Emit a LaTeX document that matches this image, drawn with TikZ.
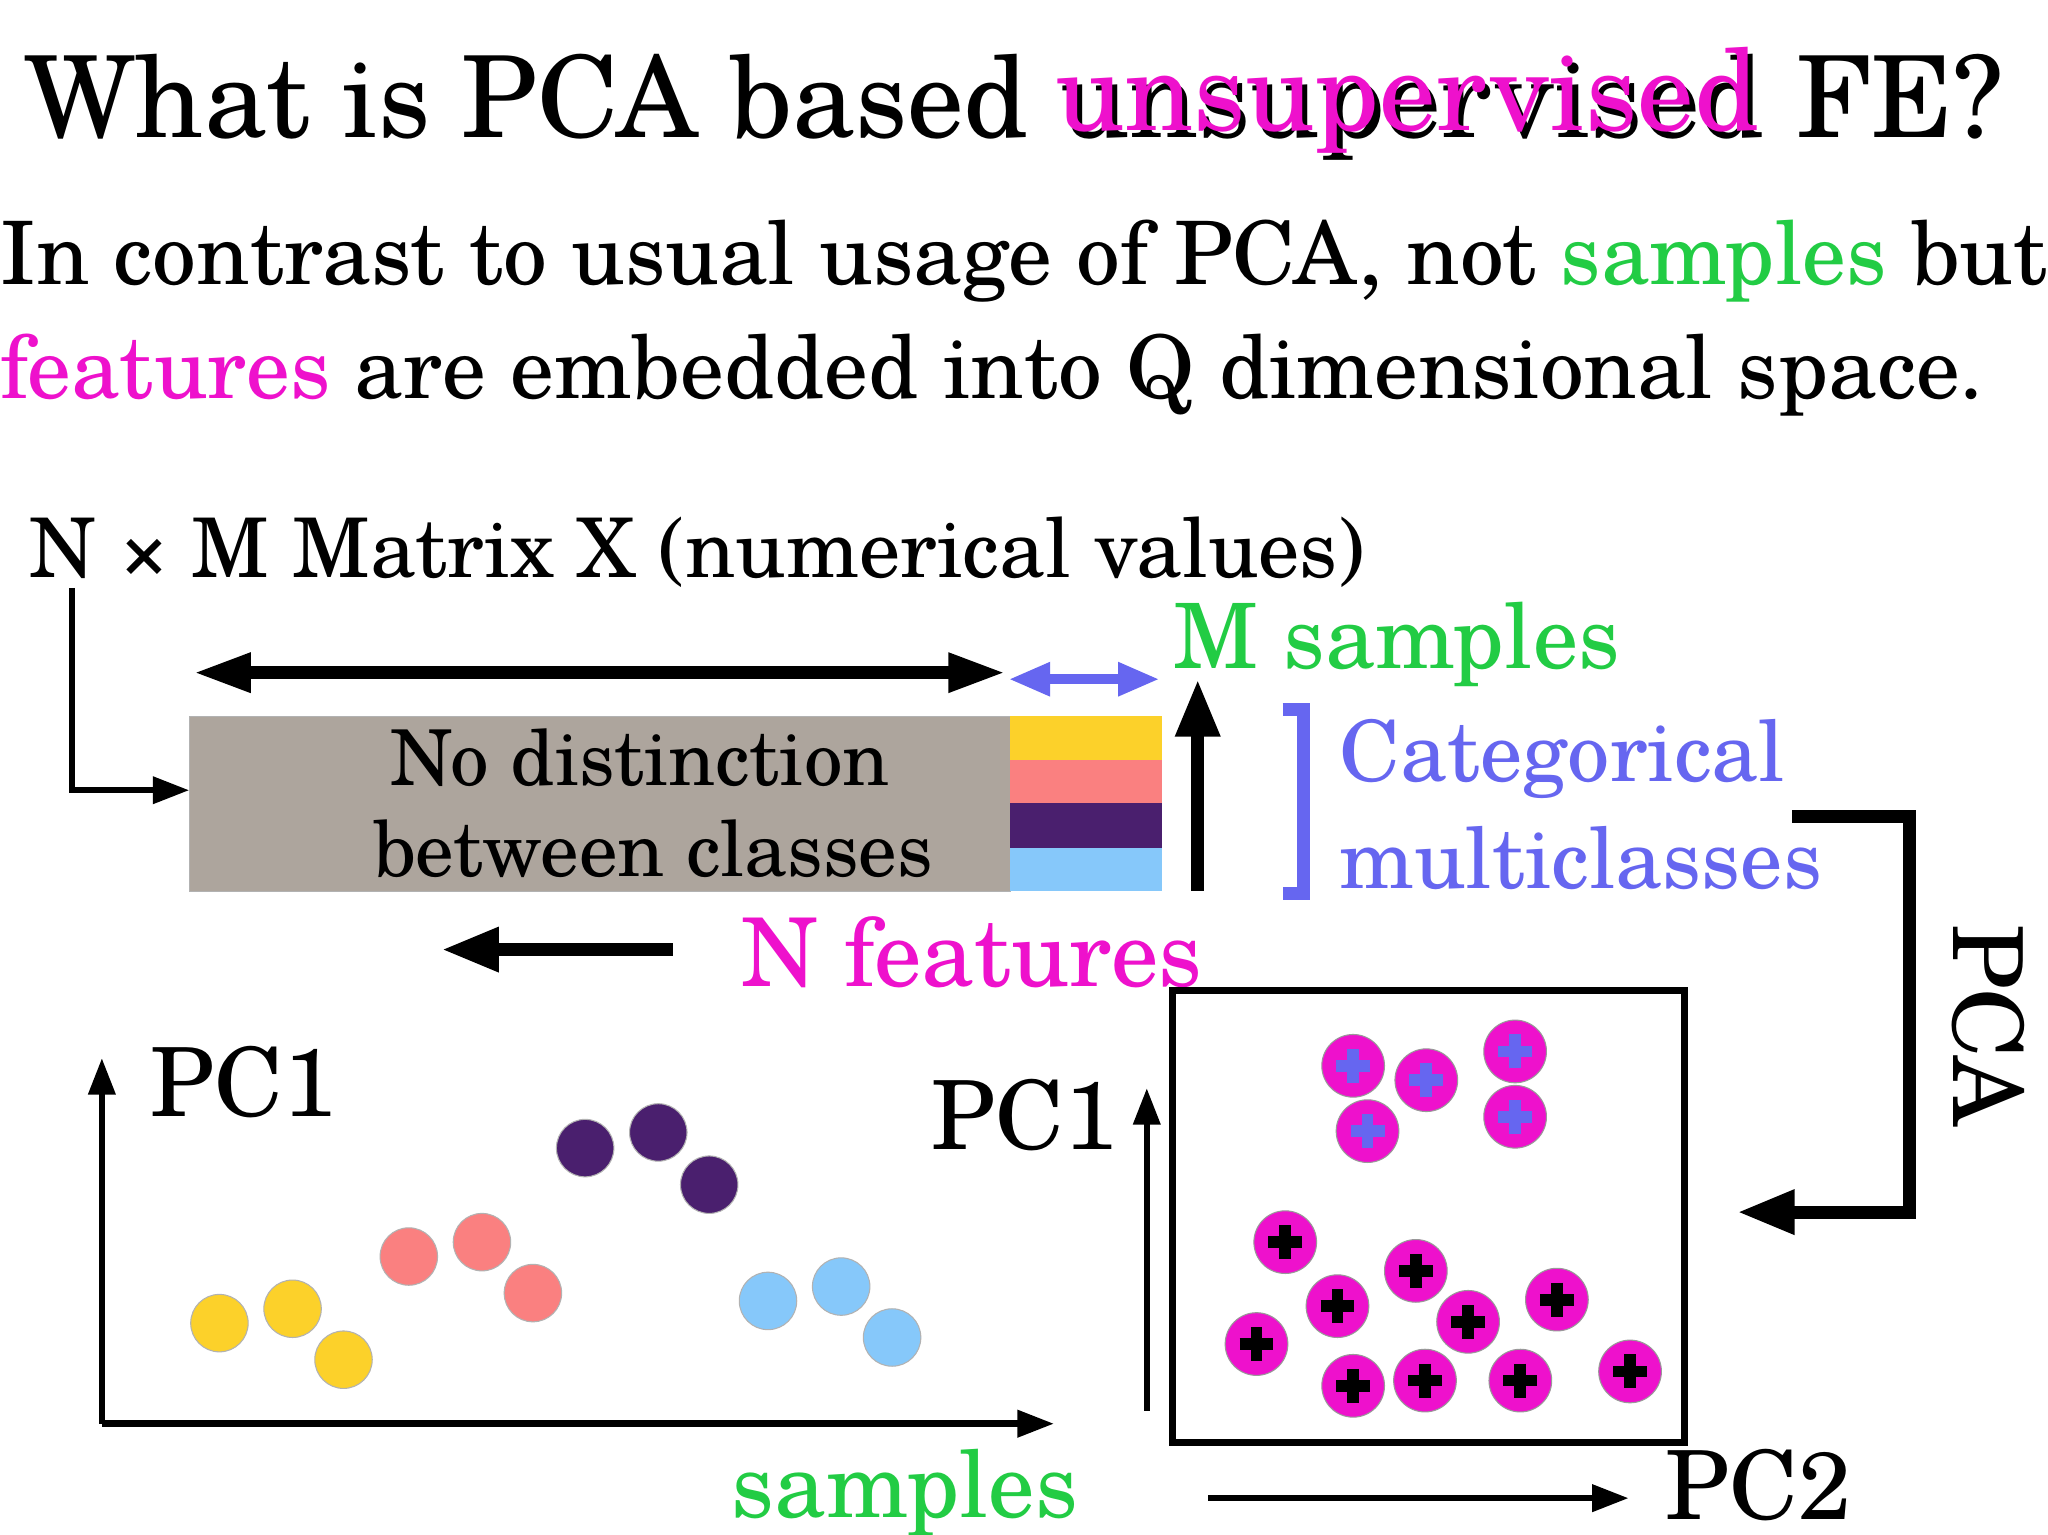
\documentclass[tikz,border=0pt]{standalone}
\usepackage{fontspec}
\setmainfont{TeX Gyre Schola}
\usetikzlibrary{arrows.meta,calc}
\definecolor{mag}{HTML}{EE11CC}
\definecolor{grn}{HTML}{22CC44}
\definecolor{blu}{HTML}{6666F0}
\definecolor{gry}{HTML}{ADA59D}
\definecolor{yel}{HTML}{FCD12A}
\definecolor{sal}{HTML}{FA8080}
\definecolor{pur}{HTML}{4A1F6E}
\definecolor{lbl}{HTML}{86C8FA}
\newcommand{\fs}[1]{\fontsize{#1}{#1}\selectfont}
\tikzset{
 txt/.style={anchor=base west,inner sep=0pt},
 thick arrow/.style={line width=5pt,-{Triangle[length=22pt,width=16pt]}},
 thin arrow/.style={line width=2.5pt,-{Triangle[length=14pt,width=10pt]}},
 dot/.style={circle,minimum size=22pt,inner sep=0pt,draw=black!30,line width=0.4pt},
 pl/.style={circle,minimum size=24pt,inner sep=0pt,fill=mag,draw=black!40},
}
\newcommand{\plusmark}[2]{\draw[#2,line width=4.5pt] ($(#1)+(-13,0)$)--($(#1)+(13,0)$) ($(#1)+(0,-13)$)--($(#1)+(0,13)$);}
\begin{document}
\begin{tikzpicture}[x=0.5pt,y=-0.5pt]
\useasboundingbox[fill=white] (0,0) rectangle (1568,1175);
% title
\node[txt] (t1) at (18,105) {\fs{43.3}What is PCA based \phantom{unsupervised} FE?};
\node[txt] (t1b) at (18,105) {\fs{43.3}\phantom{What is PCA based }unsupervised};
\node[txt,text=mag] (t1c) at (14,100) {\fs{43.3}\phantom{What is PCA based }unsupervised};
\node[txt] (t2) at (0,218) {\fs{33.5}In contrast to usual usage of PCA, not \textcolor{grn}{samples} but};
\node[txt] (t3) at (0,305) {\fs{33.5}\textcolor{mag}{features} are embedded into Q dimensional space.};
\node[txt] (mx) at (22,442) {\fs{31.5}N × M Matrix X (numerical values)};
% matrix
\node[draw=black!30,fill=gry,minimum width=314pt,minimum height=67pt,inner sep=0pt,anchor=north west] (mat) at (145,548) {};
\node[anchor=center] (nd1) at (490,580) {\fs{29.5}No distinction};
\node[anchor=center] (nd2) at (500,650) {\fs{29.5}between classes};
\fill[yel] (773,548) rectangle (890,582);
\fill[sal] (773,582) rectangle (890,615);
\fill[pur] (773,615) rectangle (890,649);
\fill[lbl] (773,649) rectangle (890,682);
\coordinate (a0) at (55,450); \coordinate (a1) at (145,605);
\draw[thin arrow] (a0) |- (a1);
\coordinate (da) at (148,515); \coordinate (db) at (770,515);
\draw[line width=5pt,{Triangle[length=22pt,width=14pt]}-{Triangle[length=22pt,width=14pt]}] (da)--(db);
\coordinate (ba) at (772,520); \coordinate (bb) at (888,520);
\draw[blu,line width=4pt,{Triangle[length=16pt,width=12pt]}-{Triangle[length=16pt,width=12pt]}] (ba)--(bb);
\node[txt,text=grn] (ms) at (898,512) {\fs{34.5}M samples};
\coordinate (ua) at (917,682); \coordinate (ub) at (917,520);
\draw[thick arrow] (ua)--(ub);
\draw[blu,line width=5pt] (982,543)--(998,543)--(998,684)--(982,684);
\node[txt,text=blu] (cat) at (1025,598) {\fs{32.3}Categorical};
\node[txt,text=blu] (mul) at (1025,680) {\fs{32.3}multiclasses};
\coordinate (pa) at (1372,625); \coordinate (pb) at (1462,780); \coordinate (pc) at (1330,928);
\draw[thick arrow] (pa) -| (pb) |- (pc);
\node[rotate=-90,anchor=center] (pca) at (1522,785) {\fs{37}PCA};
\coordinate (la) at (515,727); \coordinate (lb) at (338,727);
\draw[thick arrow] (la)--(lb);
\node[txt,text=mag] (nf) at (567,755) {\fs{36.3}N features};
% left plot
\coordinate (o) at (78,1090); \coordinate (yt) at (78,810); \coordinate (xt) at (807,1090);
\draw[thin arrow] (o)--(yt); \draw[thin arrow] (o)--(xt);
\node[txt] (pc1a) at (115,855) {\fs{36.5}PC1};
\node[txt,text=grn] (smp) at (560,1162) {\fs{35.5}samples};
\foreach \x/\y/\c in {168/1013/yel,224/1002/yel,263/1041/yel,313/962/sal,369/951/sal,408/990/sal,448/879/pur,504/867/pur,543/907/pur,588/996/lbl,644/985/lbl,683/1024/lbl}
  \node[dot,fill=\c] at (\x,\y) {};
% right plot
\node[draw,line width=2.5pt,minimum width=196pt,minimum height=173pt,anchor=north west,inner sep=0pt] (box) at (895,756) {};
\coordinate (r0) at (878,1080); \coordinate (r1) at (878,833);
\draw[thin arrow] (r0)--(r1);
\node[txt] (pc1b) at (713,880) {\fs{36.5}PC1};
\coordinate (s0) at (925,1147); \coordinate (s1) at (1247,1147);
\draw[thin arrow] (s0)--(s1);
\node[txt] (pc2) at (1275,1163) {\fs{36.5}PC2};
\foreach \x/\y in {1036/816,1092/827,1160/805,1047/866,1160/855} {
  \node[pl] at (\x,\y) {}; \plusmark{\x,\y}{blu} }
\foreach \x/\y in {984/951,1084/973,1024/1000,1192/995,1124/1012,962/1029,1036/1061,1091/1057,1164/1057,1248/1050} {
  \node[pl] at (\x,\y) {}; \plusmark{\x,\y}{black} }
\end{tikzpicture}
\end{document}
